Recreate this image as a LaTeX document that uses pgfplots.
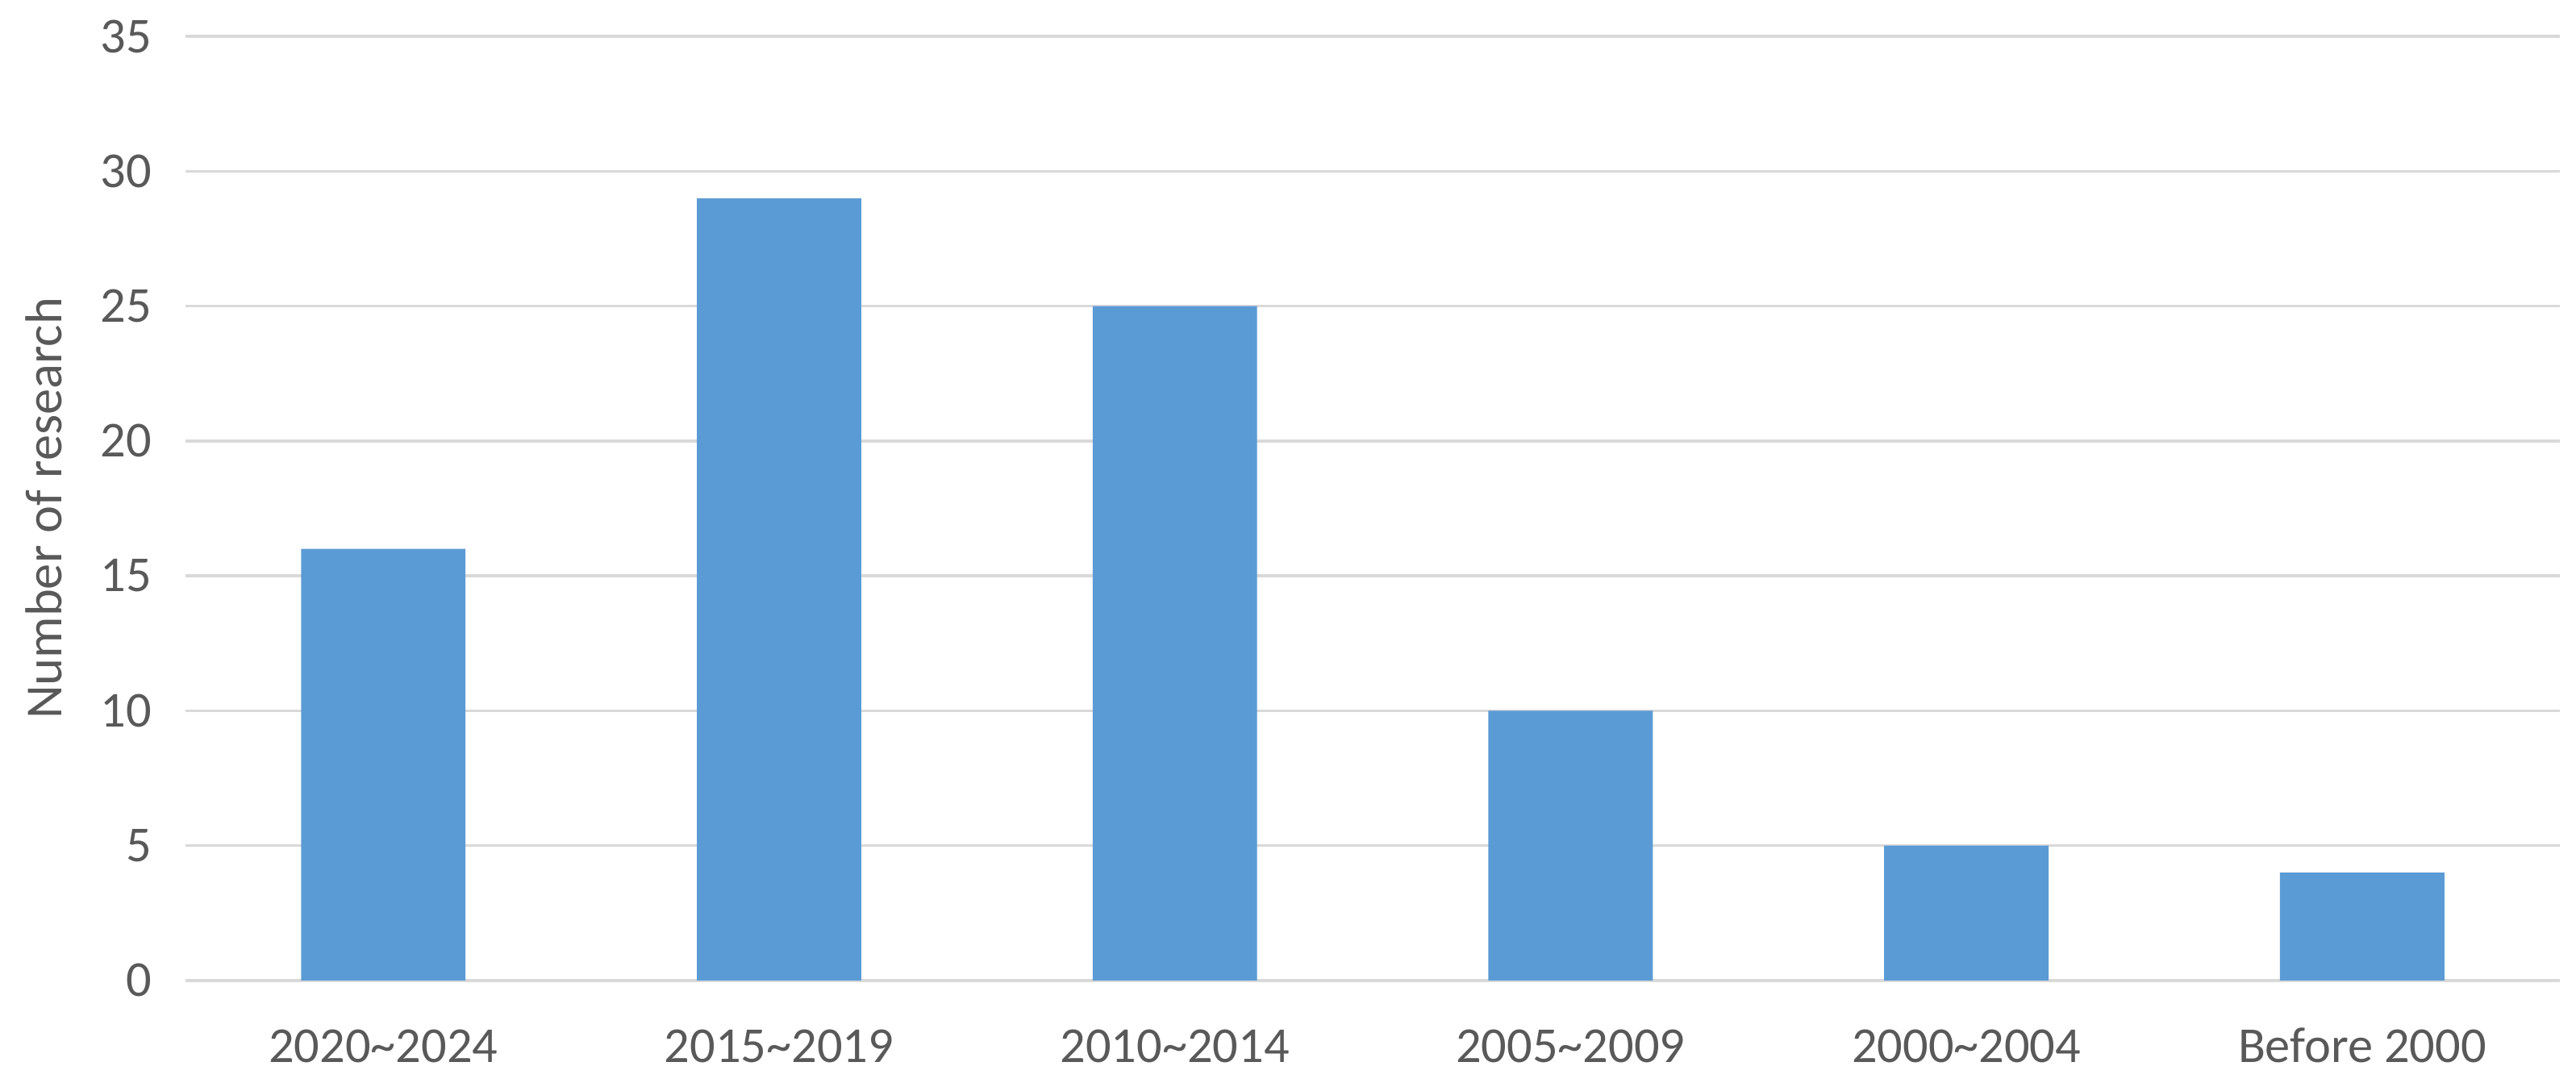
\documentclass[border=0pt]{standalone}
\usepackage{pgfplots}
\pgfplotsset{compat=1.18}
\usepackage{fontspec}
\setmainfont{Carlito}
\definecolor{barblue}{HTML}{5B9BD5}
\definecolor{gridgray}{HTML}{D9D9D9}
\definecolor{textgray}{HTML}{595959}
\begin{document}
\begin{tikzpicture}
\useasboundingbox (0,0) rectangle (614.2pt,259.2pt);
\begin{axis}[
  at={(44.2pt,25.4pt)}, anchor=south west,
  scale only axis,
  width=566.2pt, height=225.1pt,
  ybar, bar width=39.2pt,
  xmin=-0.5, xmax=5.5,
  ymin=0, ymax=35,
  ytick={0,5,...,35},
  xtick=data,
  xticklabels={2020\textasciitilde2024,2015\textasciitilde2019,2010\textasciitilde2014,2005\textasciitilde2009,2000\textasciitilde2004,Before 2000},
  axis line style={draw=none},
  axis x line*=bottom,
  axis y line*=left,
  major tick length=0pt,
  ymajorgrids,
  grid style={gridgray, line width=0.7pt},
  tick label style={textgray, font=\fontsize{12}{14}\selectfont},
  /pgf/number format/assume math mode=true,
  xticklabel style={anchor=base, inner sep=0pt, yshift=-19.6pt},
  yticklabel style={anchor=east, inner sep=0pt, xshift=-7.8pt},
  ylabel={Number of research},
  every axis y label/.style={at={(rel axis cs:-0.0595,0.5)}, rotate=90, anchor=center, textgray, font=\fontsize{12.4}{14}\selectfont},
  clip=false,
]
\addplot[fill=barblue, draw=none] coordinates {(0,16) (1,29) (2,25) (3,10) (4,5) (5,4)};
\end{axis}
\end{tikzpicture}
\end{document}
